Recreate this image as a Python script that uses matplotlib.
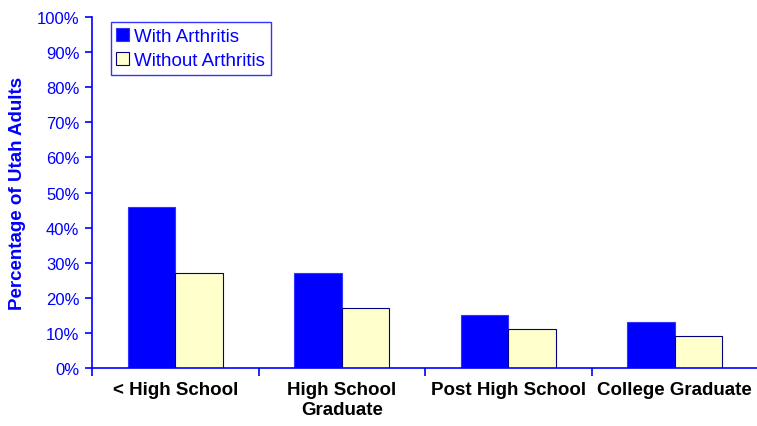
import numpy as np
import matplotlib.pyplot as plt
from matplotlib.ticker import FuncFormatter

categories = ['< High School', 'High School\nGraduate', 'Post High School', 'College Graduate']
with_arthritis = [46, 27, 15, 13]
without_arthritis = [27, 17, 11, 9]

plt.rcParams['font.family'] = ['Liberation Sans', 'DejaVu Sans']

fig = plt.figure(figsize=(7.57, 4.27), dpi=100)
ax = fig.add_axes([0.1215, 0.1358, 0.88, 0.822])

x = np.arange(len(categories))
w = 0.285
ax.bar(x - w / 2, with_arthritis, w, color='#0000FF', edgecolor='#3333FF', linewidth=0.8, label='With Arthritis')
ax.bar(x + w / 2, without_arthritis, w, color='#FFFFCC', edgecolor='#000080', linewidth=0.8, label='Without Arthritis')

ax.set_xlim(-0.5, 3.5)
ax.set_ylim(0, 100)
ax.set_yticks(range(0, 101, 10))
ax.yaxis.set_major_formatter(FuncFormatter(lambda v, p: '%d%%' % v))
ax.set_xticks([-0.5, 0.5, 1.5, 2.5, 3.5])
ax.set_xticklabels([])
ax.set_xticks(x, minor=True)
ax.set_xticklabels(categories, minor=True, fontsize=13.5, fontweight='bold', color='black', linespacing=1.25)
ax.tick_params(axis='x', which='minor', length=0, pad=9)
ax.tick_params(axis='x', which='major', length=6, color='#0000FF', width=1.2)
ax.tick_params(axis='y', length=5, color='#0000FF', width=1.2, labelcolor='#0000FF', labelsize=12, pad=4)

for s in ['top', 'right']:
    ax.spines[s].set_visible(False)
for s in ['left', 'bottom']:
    ax.spines[s].set_color('#0000FF')
    ax.spines[s].set_linewidth(1.2)

ax.set_ylabel('Percentage of Utah Adults', fontsize=13.5, fontweight='bold', color='#0000FF', labelpad=8)

leg = ax.legend(loc='upper left', bbox_to_anchor=(0.028, 0.986), fontsize=13.5, frameon=True, fancybox=False,
                handlelength=0.7, handleheight=0.7, handletextpad=0.25, borderpad=0.3, labelspacing=0.4,
                borderaxespad=0)
leg.get_frame().set_edgecolor('#0000FF')
leg.get_frame().set_linewidth(1.0)
for t in leg.get_texts():
    t.set_color('#0000FF')

fig.savefig('out.png', dpi=100)
